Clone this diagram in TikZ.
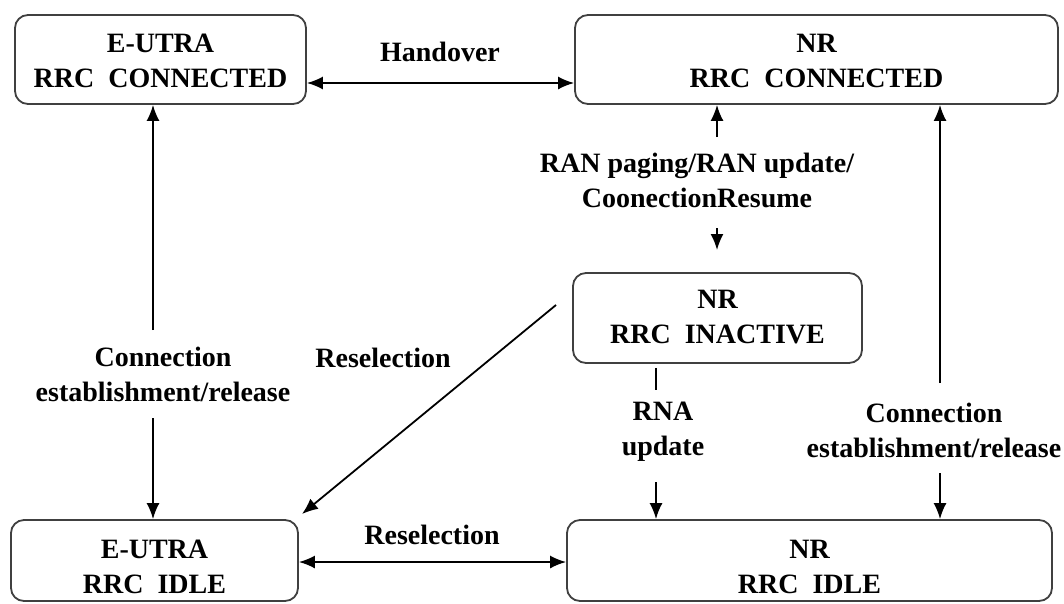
\documentclass[tikz,border=0pt]{standalone}
\usepackage{fontspec}
\newfontfamily\tnr{Liberation Serif}
\usetikzlibrary{arrows.meta}
\newcommand\tdown[2]{\raisebox{-#1}[\height][\depth]{\begin{tabular}{@{}c@{}}#2\end{tabular}}}
\begin{document}
\begin{tikzpicture}[x=1pt,y=-1pt,
  state/.style={draw=black!75, line width=1.8pt, rounded corners=13pt,
    font=\tnr\bfseries\fontsize{28}{35}\selectfont, align=center, inner sep=0pt},
  lab/.style={font=\tnr\bfseries\fontsize{28}{35}\selectfont, align=center, inner sep=0pt},
  conn/.style={line width=1.8pt, -{Latex[length=16pt,width=13pt]}},
  biconn/.style={line width=1.8pt, {Latex[length=16pt,width=13pt]}-{Latex[length=16pt,width=13pt]}},
  plainline/.style={line width=1.8pt}]
\useasboundingbox (0,0) rectangle (1064,603);

\node[state, minimum width=291pt, minimum height=89pt] (EC) at (160.5,59.5) {\tdown{3pt}{E-UTRA\\RRC\ \ CONNECTED}};
\node[state, minimum width=483pt, minimum height=89pt] (NC) at (816.5,59.5) {\tdown{3pt}{NR\\RRC\ \ CONNECTED}};
\node[state, minimum width=289pt, minimum height=90pt] (NI) at (717.5,318) {\tdown{1pt}{NR\\RRC\ \ INACTIVE}};
\node[state, minimum width=287pt, minimum height=81pt] (EI) at (154.5,560.5) {\tdown{8pt}{E-UTRA\\RRC\ \ IDLE}};
\node[state, minimum width=485pt, minimum height=81pt] (NL) at (809.5,560.5) {\tdown{8pt}{NR\\RRC\ \ IDLE}};

\node[lab] (Lho) at (440,52) {Handover};
\node[lab] (Lran) at (697,180) {RAN paging/RAN update/\\CoonectionResume};
\node[lab] (Lce1) at (163,374) {Connection\\establishment/release};
\node[lab] (Lre1) at (383,358) {Reselection};
\node[lab] (Lrna) at (663,432) {RNA\\update};
\node[lab] (Lce2) at (934,430) {Connection\\establishment/release};
\node[lab] (Lre2) at (432,535) {Reselection};

% Handover
\coordinate (h) at (440,83);
\draw[biconn] (EC.east |- h) -- (NC.west |- h);
% E-UTRA connected <-> idle
\coordinate (c1a) at (153,330);
\coordinate (c1b) at (153,418);
\draw[conn] (c1a) -- (c1a |- EC.south);
\draw[conn] (c1b) -- (c1b |- EI.north);
% RAN paging
\coordinate (r1) at (717,137);
\coordinate (r2) at (717,228);
\coordinate (r3) at (717,250);
\draw[conn] (r1) -- (r1 |- NC.south);
\draw[conn] (r2) -- (r3);
% RNA update
\coordinate (n1) at (656,390);
\coordinate (n2) at (656,482);
\draw[plainline] (n1 |- NI.south) ++(0,4) -- (n1);
\draw[conn] (n2) -- (n2 |- NL.north);
% NR connected <-> idle
\coordinate (m1) at (940,383);
\coordinate (m2) at (940,473);
\draw[conn] (m1) -- (m1 |- NC.south);
\draw[conn] (m2) -- (m2 |- NL.north);
% Reselection diagonal
\coordinate (d1) at (556,305);
\coordinate (d2) at (302,514);
\draw[conn] (d1) -- (d2);
% Reselection bottom
\coordinate (s) at (432,562);
\draw[biconn] (EI.east |- s) -- (NL.west |- s);
\end{tikzpicture}
\end{document}
